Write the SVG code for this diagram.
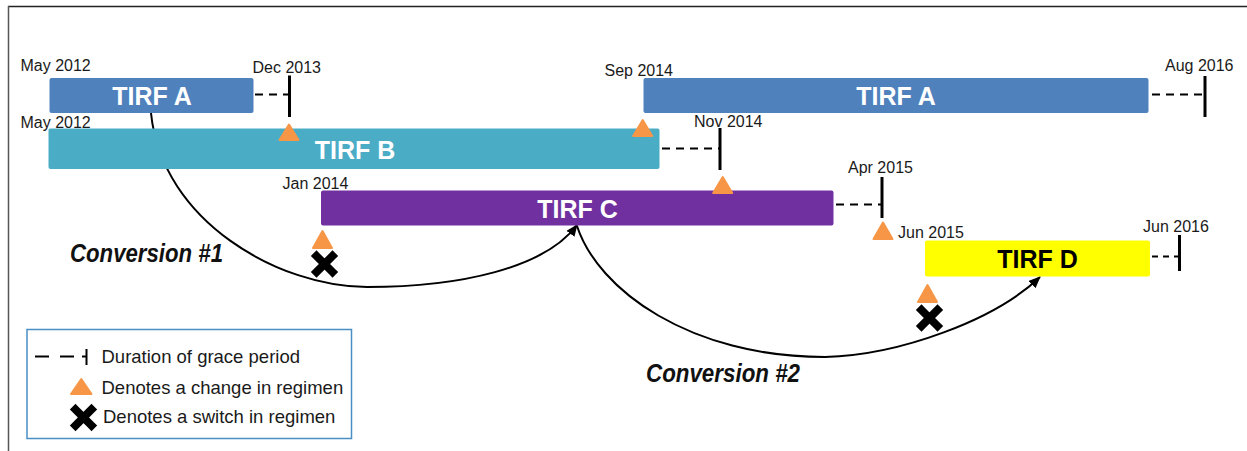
<svg xmlns="http://www.w3.org/2000/svg" width="1247" height="451" viewBox="0 0 1247 451">
<style>
.date{font-family:"Liberation Sans",Arial,sans-serif;font-size:16px;fill:#1a1a1a}
.bar{font-family:"Liberation Sans",Arial,sans-serif;font-size:25px;font-weight:bold;fill:#ffffff;text-anchor:middle}
.conv{font-family:"Liberation Sans",Arial,sans-serif;font-size:25px;font-weight:bold;font-style:italic;fill:#111111}
.leg{font-family:"Liberation Sans",Arial,sans-serif;font-size:18.5px;fill:#1a1a1a}
.dash{stroke:#000;stroke-width:2;stroke-dasharray:8,6;fill:none}
.tick{stroke:#000;stroke-width:3;fill:none}
.tri{fill:#F79646;stroke:#F79646;stroke-width:2;stroke-linejoin:round}
.curve{fill:none;stroke:#000;stroke-width:2}
</style>
<defs>
<marker id="arr" viewBox="0 0 12 10" refX="11" refY="5" markerWidth="12" markerHeight="10" markerUnits="userSpaceOnUse" orient="auto">
<path d="M0,0 L12,5 L0,10 Z" fill="#000"/>
</marker>
<g id="xmark">
<path d="M-8,-8 L8,8 M8,-8 L-8,8" stroke="#000" stroke-width="8" stroke-linecap="square" fill="none"/>
</g>
</defs>
<rect width="1247" height="451" fill="#fff"/>
<line x1="8" y1="6.5" x2="1247" y2="6.5" stroke="#222" stroke-width="1.5"/>
<line x1="8.5" y1="6" x2="8.5" y2="451" stroke="#555" stroke-width="1.5"/>

<g id="connectors">
<path class="curve" d="M151,113 C162,222 280,287 367,287 C460,287 545,268 577,225" marker-end="url(#arr)"/>
<path class="curve" d="M577,226 C598,290 690,357 825,357 C900,355 995,320 1040,277" marker-end="url(#arr)"/>
</g>

<g id="tirfA1">
<rect x="49.5" y="78" width="204" height="35" rx="2" fill="#4F81BD"/>
<text class="bar" x="152" y="105">TIRF A</text>
<line class="dash" x1="255" y1="94.5" x2="289" y2="94.5"/>
<line class="tick" x1="289.5" y1="75.5" x2="289.5" y2="117"/>
<text class="date" x="20.5" y="71">May 2012</text>
<text class="date" x="252.5" y="73">Dec 2013</text>
</g>

<g id="tirfB">
<rect x="48.5" y="128.5" width="611" height="40.5" rx="2" fill="#4BACC6"/>
<text class="bar" x="355" y="159">TIRF B</text>
<line class="dash" x1="662" y1="148.5" x2="719" y2="148.5"/>
<line class="tick" x1="720" y1="128" x2="720" y2="170"/>
<text class="date" x="20.5" y="127.5">May 2012</text>
<text class="date" x="694" y="127">Nov 2014</text>
</g>

<g id="tirfA2">
<rect x="643.5" y="78" width="505" height="35" rx="2" fill="#4F81BD"/>
<text class="bar" x="896" y="105">TIRF A</text>
<line class="dash" x1="1152" y1="94.5" x2="1204" y2="94.5"/>
<line class="tick" x1="1205" y1="76" x2="1205" y2="117"/>
<text class="date" x="604.5" y="76">Sep 2014</text>
<text class="date" x="1165" y="71">Aug 2016</text>
</g>

<g id="tirfC">
<rect x="321" y="190.5" width="512.5" height="35" rx="2" fill="#7030A0"/>
<text class="bar" x="577.5" y="218">TIRF C</text>
<line class="dash" x1="836" y1="204.5" x2="881" y2="204.5"/>
<line class="tick" x1="882" y1="177" x2="882" y2="218"/>
<text class="date" x="282.5" y="189">Jan 2014</text>
<text class="date" x="848" y="173">Apr 2015</text>
</g>

<g id="tirfD">
<rect x="925" y="240.5" width="225" height="36" rx="2" fill="#FFFF00"/>
<text class="bar" x="1037.5" y="268" fill="#000" style="fill:#000">TIRF D</text>
<line class="dash" x1="1152" y1="256.5" x2="1178" y2="256.5" style="stroke-dasharray:6,5"/>
<line class="tick" x1="1179.5" y1="235" x2="1179.5" y2="271"/>
<text class="date" x="898" y="238">Jun 2015</text>
<text class="date" x="1143" y="231.5">Jun 2016</text>
</g>

<g id="markers">
<polygon class="tri" points="289,124.5 298.5,140 279.5,140"/>
<polygon class="tri" points="642.7,120 652.2,136 633.2,136"/>
<polygon class="tri" points="722.7,177 732.2,193 713.2,193"/>
<polygon class="tri" points="883,222.5 892.5,239 873.5,239"/>
<polygon class="tri" points="322.5,231 332,248 313,248"/>
<polygon class="tri" points="927.5,285 937,302 918,302"/>
<use href="#xmark" x="324.5" y="264"/>
<use href="#xmark" x="929.5" y="318"/>
</g>

<g id="conversion1">
<text class="conv" x="70" y="261.5" textLength="153" lengthAdjust="spacingAndGlyphs">Conversion #1</text>
</g>
<g id="conversion2">
<text class="conv" x="646" y="381.5" textLength="154" lengthAdjust="spacingAndGlyphs">Conversion #2</text>
</g>

<g id="legend">
<rect x="27" y="329.5" width="324.5" height="109" fill="#fff" stroke="#4A8FC4" stroke-width="1.5"/>
<line x1="35" y1="356.5" x2="49" y2="356.5" stroke="#000" stroke-width="2"/>
<line x1="60" y1="356.5" x2="74" y2="356.5" stroke="#000" stroke-width="2"/>
<line x1="82" y1="356.5" x2="86" y2="356.5" stroke="#000" stroke-width="2"/>
<line x1="86.5" y1="349" x2="86.5" y2="365" stroke="#000" stroke-width="2"/>
<text class="leg" x="101.5" y="363">Duration of grace period</text>
<polygon class="tri" points="81.3,379 91.5,394 71,394"/>
<text class="leg" x="101.5" y="394">Denotes a change in regimen</text>
<use href="#xmark" x="83.5" y="417.5"/>
<text class="leg" x="103" y="422.5">Denotes a switch in regimen</text>
</g>
</svg>
